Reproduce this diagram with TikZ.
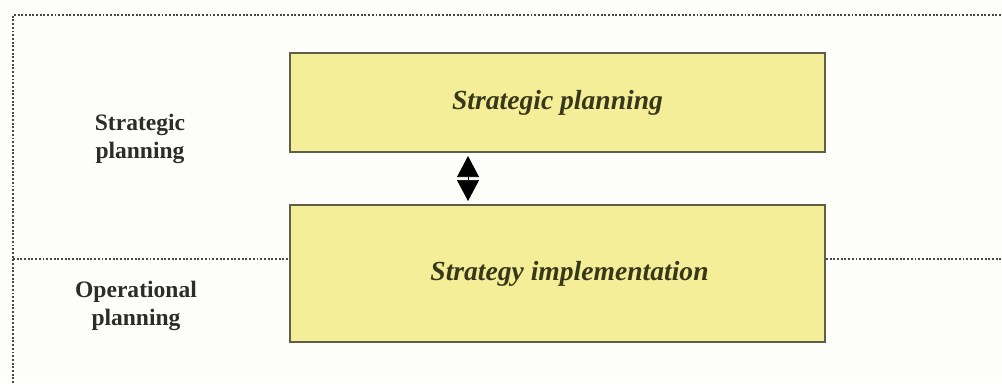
\documentclass[tikz,border=0pt]{standalone}
\usepackage{fontspec}
\setmainfont{Liberation Serif}
\usetikzlibrary{positioning,arrows.meta}

\definecolor{paper}{RGB}{253,253,249}
\definecolor{boxfill}{RGB}{245,238,152}
\definecolor{boxline}{RGB}{95,95,72}
\definecolor{boxtext}{RGB}{55,55,25}
\definecolor{labeltext}{RGB}{45,45,40}
\definecolor{linegray}{RGB}{70,70,80}

\begin{document}
\begin{tikzpicture}[x=0.02cm, y=-0.02cm, node distance=1.02cm,
  plan/.style={draw=boxline, line width=1.2pt, fill=boxfill, minimum width=10.7cm,
    font=\fontsize{15.7}{18}\selectfont\bfseries\itshape, text=boxtext},
  level/.style={align=center, font=\fontsize{13.4}{15.6}\selectfont\bfseries, text=labeltext},
  divider/.style={densely dotted, line width=1.1pt, color=linegray},
  updown/.style={{Triangle[width=0.44cm,length=0.42cm]}-{Triangle[width=0.44cm,length=0.42cm]},
    line width=0.4pt, color=black, shorten <=0.06cm, shorten >=0.06cm}]
\fill[paper] (0,0) rectangle (1002,383);
\useasboundingbox (0,0) rectangle (1002,383);

\node[plan, minimum height=1.98cm] (strat) at (557.5,102.5) {Strategic planning};
\node[plan, minimum height=2.74cm, below=of strat] (impl) {\hspace*{0.48cm}Strategy implementation};

\node[level] (lstrat) at (140,139) {Strategic\\planning};
\node[level] (loper) at (136,306) {Operational\\planning};

% frame and level divider
\coordinate (corner) at (13,15);
\coordinate (midl) at (13,259);
\coordinate (midr) at (1002,259);
\draw[divider] (13,383) -- (corner) -- (1002,15);
\draw[divider] (midl) -- (midl -| impl.west);
\draw[divider] (impl.east |- midr) -- (midr);

\draw[updown] ([xshift=-1.79cm]strat.south) -- ([xshift=-1.79cm]impl.north);
\end{tikzpicture}
\end{document}
